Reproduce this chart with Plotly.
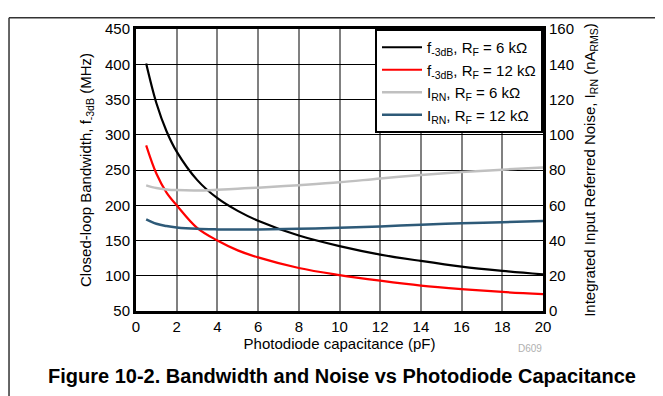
import plotly.graph_objects as go

# photodiode capacitance (pF)
cap = [0.5, 1, 1.5, 2, 3, 4, 5, 6, 8, 10, 12, 14, 16, 18, 20]

# closed-loop bandwidth (MHz)
bw_6k = [401, 345, 305, 276, 236, 210, 192, 178, 157, 142, 130, 121, 113, 107, 102]
bw_12k = [285, 245, 218, 200, 168, 150, 136, 126, 111, 101, 93, 86, 81, 77, 74]

# integrated input referred noise (nA RMS)
irn_6k = [71.3, 69.8, 69.0, 68.6, 68.4, 68.8, 69.4, 70.0, 71.4, 73.0, 75.2, 77.2, 78.8, 80.2, 81.4]
irn_12k = [52.0, 49.5, 48.2, 47.4, 46.6, 46.3, 46.2, 46.3, 46.6, 47.2, 48.0, 49.0, 49.8, 50.4, 51.0]

names = ["f<sub>-3dB</sub>, R<sub>F</sub> = 6 kΩ",
         "f<sub>-3dB</sub>, R<sub>F</sub> = 12 kΩ",
         "I<sub>RN</sub>, R<sub>F</sub> = 6 kΩ",
         "I<sub>RN</sub>, R<sub>F</sub> = 12 kΩ"]

fnt = "Liberation Sans, Arial, sans-serif"

fig = go.Figure()
fig.add_trace(go.Scatter(x=cap, y=bw_6k, name=names[0], mode="lines",
                         line=dict(color="black", width=2.2, shape="spline")))
fig.add_trace(go.Scatter(x=cap, y=bw_12k, name=names[1], mode="lines",
                         line=dict(color="#ff0000", width=2.2, shape="spline")))
fig.add_trace(go.Scatter(x=cap, y=irn_6k, name=names[2], mode="lines", yaxis="y2",
                         line=dict(color="#c0c0c0", width=2.5, shape="spline")))
fig.add_trace(go.Scatter(x=cap, y=irn_12k, name=names[3], mode="lines", yaxis="y2",
                         line=dict(color="#2e5a78", width=2.5, shape="spline")))

# page has an 8px body margin, so the figure is offset by (8, 8)
fig.update_layout(
    width=663, height=396,
    margin=dict(l=128, r=128, t=13, b=93),
    paper_bgcolor="white", plot_bgcolor="white",
    font=dict(family=fnt, size=15, color="black"),
    showlegend=True,
    legend=dict(x=1, y=1, xanchor="right", yanchor="top",
                bgcolor="white", bordercolor="black", borderwidth=2,
                font=dict(size=15), tracegroupgap=0, itemwidth=40,
                traceorder="normal"),
    xaxis=dict(range=[0, 20], dtick=2, showgrid=True, gridcolor="#808080", gridwidth=2,
               showline=True, linecolor="black", linewidth=3, mirror=True,
               ticks="", zeroline=False, tickfont=dict(size=15),
               title=dict(text="Photodiode capacitance (pF)", standoff=2, font=dict(size=15))),
    yaxis=dict(range=[50, 450], dtick=50, showgrid=True, gridcolor="black", gridwidth=1,
               showline=True, linecolor="black", linewidth=3, ticks="", zeroline=False,
               tickfont=dict(size=15),
               title=dict(text="Closed-loop Bandwidth, f<sub>-3dB</sub> (MHz)", standoff=10,
                          font=dict(size=15))),
    yaxis2=dict(range=[0, 160], dtick=20, overlaying="y", side="right", showgrid=False,
                showline=True, linecolor="black", linewidth=3, ticks="", zeroline=False,
                tickfont=dict(size=15),
                title=dict(text="Integrated Input Referred Noise, I<sub>RN</sub> (nA<sub>RMS</sub>)",
                           standoff=12, font=dict(size=15))),
)

# outer frame lines (top and left), as in the datasheet figure
fig.add_shape(type="line", xref="paper", yref="paper", x0=-0.312, x1=1.32, y0=1.04, y1=1.04,
              line=dict(color="#333333", width=1.5))
fig.add_shape(type="line", xref="paper", yref="paper", x0=-0.312, x1=-0.312, y0=1.04, y1=-0.33,
              line=dict(color="#333333", width=1.5))

fig.add_annotation(text="D609", xref="paper", yref="paper", x=0.968, y=-0.134,
                   xanchor="center", yanchor="middle",
                   showarrow=False, font=dict(size=10, color="#b0b0b0"))
fig.add_annotation(text="<b>Figure 10-2. Bandwidth and Noise vs Photodiode Capacitance</b>",
                   xref="paper", yref="paper", x=0.507, y=-0.231, xanchor="center",
                   yanchor="middle", showarrow=False, font=dict(size=20, color="black"))

fig.write_html("out.html")
